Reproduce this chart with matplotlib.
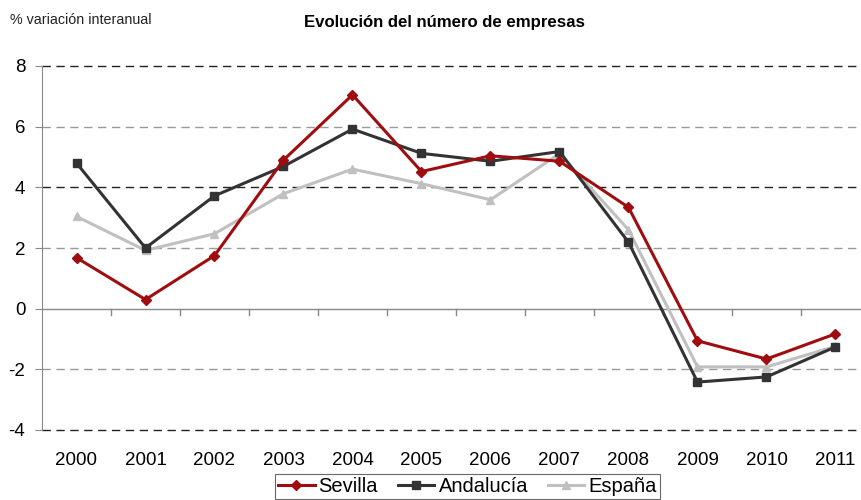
import matplotlib
matplotlib.use("Agg")
import matplotlib.pyplot as plt
import numpy as np

plt.rcParams['font.family'] = ['Liberation Sans', 'DejaVu Sans']

years = ['2000', '2001', '2002', '2003', '2004', '2005',
         '2006', '2007', '2008', '2009', '2010', '2011']
sevilla = [1.68, 0.30, 1.75, 4.90, 7.05, 4.52, 5.04, 4.86, 3.34, -1.06, -1.66, -0.83]
andalucia = [4.80, 2.00, 3.72, 4.69, 5.92, 5.12, 4.86, 5.18, 2.19, -2.42, -2.25, -1.26]
espana = [3.04, 1.92, 2.47, 3.79, 4.60, 4.12, 3.59, 5.11, 2.60, -1.92, -1.92, -1.24]
yticks = [-4, -2, 0, 2, 4, 6, 8]

fig = plt.figure(figsize=(8.61, 5.0), dpi=100)
ax = fig.add_axes([42/861, 0.14, 828/861, 0.728])

x = np.arange(len(years))

# grid lines: dark and grey dashes alternate
for v in yticks:
    if v == 0:
        continue
    col = '#222222' if v in (8, 4, -4) else '#999999'
    ax.axhline(v, color=col, lw=1.0, ls=(0, (6, 4)), zorder=1, clip_on=False)
ax.axhline(0, color='#888888', lw=1.0, zorder=1)

# category tick marks on the zero line
for b in np.arange(0.5, len(years) - 0.5, 1):
    ax.plot([b, b], [0, -0.2], color='#888888', lw=1.0, zorder=1, clip_on=False)

ax.plot(x, espana, color='#c0c0c0', lw=2.2, marker='^', ms=6, label='España', zorder=3)
ax.plot(x, andalucia, color='#333333', lw=2.2, marker='s', ms=5.5, label='Andalucía', zorder=4)
ax.plot(x, sevilla, color='#a00d10', lw=2.2, marker='D', ms=5, label='Sevilla', zorder=5)

ax.set_xlim(-0.5, len(years) - 0.5)
ax.set_ylim(-4, 8)
ax.set_yticks(yticks)
ax.set_yticklabels([str(v) for v in yticks], fontsize=13.5)
ax.set_xticks(x)
ax.set_xticklabels(years, fontsize=13.5)
ax.tick_params(axis='x', length=0, pad=16)
ax.tick_params(axis='y', length=5, color='#888888', pad=7)

for s in ['top', 'right', 'bottom']:
    ax.spines[s].set_visible(False)
ax.spines['left'].set_color('#888888')

fig.text(0.012, 0.96, '% variación interanual', fontsize=10.3, va='center', ha='left',
         color='#222222')
fig.text(0.516, 0.954, 'Evolución del número de empresas', fontsize=12.1, fontweight='bold',
         va='center', ha='center')

h, l = ax.get_legend_handles_labels()
order = [2, 1, 0]
leg = fig.legend([h[i] for i in order], [l[i] for i in order], loc='upper center',
                 bbox_to_anchor=(0.543, 0.052), ncol=3, fontsize=14.5, frameon=True,
                 fancybox=False, handlelength=1.8, handletextpad=0.2,
                 columnspacing=1.0, borderpad=0.15, borderaxespad=0)
leg.get_frame().set_edgecolor('#444444')
leg.get_frame().set_linewidth(0.8)

fig.savefig('out.png', dpi=100)
